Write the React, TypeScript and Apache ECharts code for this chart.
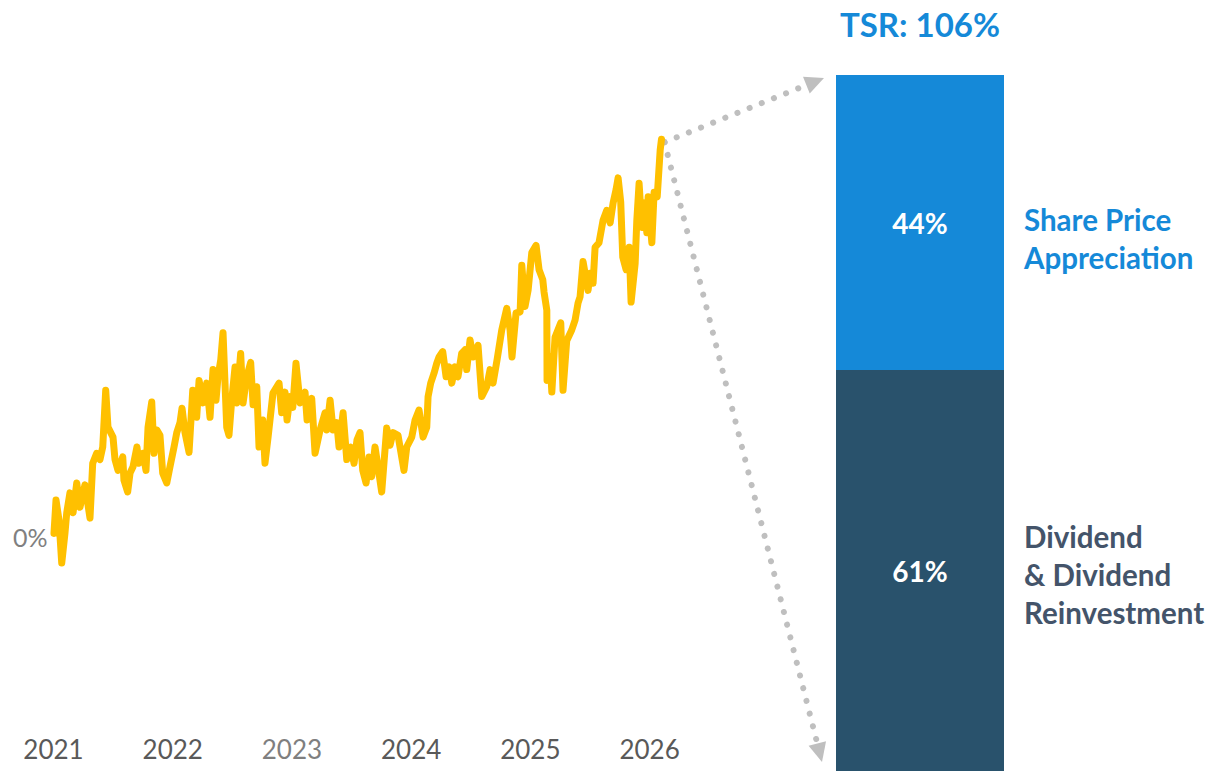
import React, { useEffect, useRef } from 'react';
import * as echarts from 'echarts';

// ---- Data ----
const tsrDates = [
  2021.004, 2021.021, 2021.046, 2021.069, 2021.096, 2021.111, 2021.138, 2021.164, 2021.195, 2021.222,
  2021.264, 2021.306, 2021.329, 2021.362, 2021.390, 2021.413, 2021.438, 2021.457, 2021.499, 2021.516,
  2021.541, 2021.581, 2021.591, 2021.622, 2021.642, 2021.667, 2021.700, 2021.717, 2021.751, 2021.776,
  2021.793, 2021.824, 2021.843, 2021.866, 2021.893, 2021.916, 2021.950, 2021.977, 2022.011, 2022.034,
  2022.061, 2022.078, 2022.103, 2022.137, 2022.168, 2022.201, 2022.221, 2022.254, 2022.285, 2022.313,
  2022.338, 2022.363, 2022.380, 2022.403, 2022.422, 2022.453, 2022.472, 2022.495, 2022.523, 2022.537,
  2022.570, 2022.590, 2022.621, 2022.654, 2022.674, 2022.705, 2022.724, 2022.755, 2022.774, 2022.800,
  2022.841, 2022.873, 2022.892, 2022.914, 2022.942, 2022.959, 2022.984, 2023.007, 2023.034, 2023.068,
  2023.110, 2023.127, 2023.166, 2023.194, 2023.236, 2023.278, 2023.292, 2023.320, 2023.345, 2023.376,
  2023.395, 2023.429, 2023.460, 2023.493, 2023.521, 2023.546, 2023.571, 2023.594, 2023.622, 2023.647,
  2023.669, 2023.697, 2023.722, 2023.753, 2023.795, 2023.823, 2023.848, 2023.890, 2023.940, 2023.963,
  2024.005, 2024.033, 2024.066, 2024.100, 2024.131, 2024.142, 2024.164, 2024.192, 2024.215, 2024.234,
  2024.265, 2024.293, 2024.318, 2024.341, 2024.368, 2024.393, 2024.424, 2024.452, 2024.466, 2024.494,
  2024.519, 2024.561, 2024.592, 2024.634, 2024.662, 2024.687, 2024.721, 2024.760, 2024.802, 2024.830,
  2024.846, 2024.880, 2024.914, 2024.928, 2024.955, 2024.981, 2025.012, 2025.048, 2025.073, 2025.104,
  2025.115, 2025.138, 2025.140, 2025.165, 2025.180, 2025.207, 2025.255, 2025.274, 2025.305, 2025.347,
  2025.375, 2025.400, 2025.417, 2025.442, 2025.484, 2025.501, 2025.526, 2025.543, 2025.576, 2025.610,
  2025.641, 2025.669, 2025.694, 2025.719, 2025.736, 2025.758, 2025.775, 2025.803, 2025.829, 2025.845,
  2025.879, 2025.893, 2025.912, 2025.935, 2025.954, 2025.977, 2025.988, 2026.019, 2026.038, 2026.064,
  2026.089, 2026.100,
];
const tsrValues = [
  0.4, 4.1, 1.9, -2.9, 0.4, 2.7, 4.9, 2.7, 6.0, 3.3,
  5.8, 2.1, 8.2, 9.3, 8.6, 10.0, 16.3, 12.2, 11.1, 8.6,
  7.4, 8.9, 6.3, 5.0, 7.1, 7.8, 10.0, 8.2, 9.3, 7.4,
  12.2, 15.0, 9.3, 11.9, 11.3, 7.1, 6.0, 7.8, 10.0, 11.6,
  12.7, 14.3, 11.6, 9.4, 16.3, 13.3, 17.4, 14.9, 17.1, 13.3,
  18.6, 15.2, 17.8, 19.7, 22.7, 12.2, 11.3, 15.2, 18.9, 14.9,
  20.4, 14.9, 17.8, 19.4, 14.7, 16.7, 10.0, 13.0, 8.2, 11.1,
  16.0, 16.7, 17.1, 13.8, 16.1, 13.0, 15.6, 14.4, 19.3, 14.9,
  16.1, 13.0, 15.4, 9.3, 11.9, 13.8, 11.9, 15.2, 11.9, 12.7,
  10.0, 13.8, 8.6, 10.0, 8.2, 10.8, 11.6, 7.4, 6.0, 8.9,
  6.7, 10.0, 7.8, 5.0, 12.1, 10.2, 11.6, 11.3, 7.4, 10.0,
  11.1, 13.0, 14.1, 11.1, 12.2, 15.6, 17.1, 18.2, 19.3, 20.0,
  20.6, 17.8, 18.9, 17.1, 18.9, 17.8, 20.4, 20.8, 18.6, 21.9,
  20.0, 21.3, 15.6, 16.7, 18.6, 17.1, 19.7, 23.0, 25.4, 23.0,
  20.0, 24.9, 25.0, 30.2, 25.6, 27.4, 31.6, 32.4, 29.7, 28.6,
  27.2, 25.2, 17.4, 20.0, 16.1, 22.2, 23.8, 16.3, 21.8, 23.0,
  24.1, 26.0, 26.7, 30.6, 27.4, 29.3, 28.2, 32.2, 32.7, 35.2,
  36.3, 34.9, 37.1, 38.6, 39.9, 37.2, 31.1, 29.7, 32.2, 26.1,
  30.4, 35.2, 39.3, 34.4, 37.1, 33.8, 37.8, 32.7, 38.3, 37.8,
  43.0, 44.2,
];

const barCategories = ['TSR'];
const dividendShare = [61];
const priceShare = [44];
const tsrTotal = 106;
const priceLabel = 'Share Price\nAppreciation';
const dividendLabel = 'Dividend\n& Dividend\nReinvestment';

export default function App() {
  const ref = useRef<HTMLDivElement>(null);

  useEffect(() => {
    document.body.style.margin = '0';
    const chart = echarts.init(ref.current as HTMLDivElement, null, { renderer: 'svg' });
    const FONT = 'Lato, "Open Sans", sans-serif';
    const BLUE = '#1589D8';
    const NAVY = '#29526C';
    const SLATE = '#44546A';
    const GREY = '#BFBFBF';

    const barLeft = 836;
    const barWidth = 168;
    const barTop = 75;
    const barHeight = 696;

    chart.setOption({
      animation: false,
      grid: [
        { left: 53.5, top: 87, width: 608, height: 630 },
        { left: barLeft, top: barTop, width: barWidth, height: barHeight },
      ],
      xAxis: [
        {
          type: 'value',
          gridIndex: 0,
          min: 2021,
          max: 2026.1,
          interval: 1,
          axisLine: { show: false },
          axisTick: { show: false },
          splitLine: { show: false },
          axisLabel: {
            margin: 19,
            fontSize: 26,
            fontFamily: FONT,
            color: (v: any) => (Number(v) === 2023 ? '#7F7F7F' : '#595959'),
            formatter: (v: number) => (Math.abs(v - Math.round(v)) < 1e-6 ? String(Math.round(v)) : ''),
          },
        },
        { type: 'category', gridIndex: 1, data: barCategories, show: false },
      ],
      yAxis: [
        {
          type: 'value',
          gridIndex: 0,
          min: -20,
          max: 50,
          interval: 10,
          axisLine: { show: false },
          axisTick: { show: false },
          splitLine: { show: false },
          axisLabel: {
            margin: 6,
            fontSize: 25,
            fontFamily: FONT,
            color: '#808080',
            formatter: (v: number) => (v === 0 ? '0%' : ''),
          },
        },
        { type: 'value', gridIndex: 1, min: 1.2, max: 105, show: false },
      ],
      series: [
        {
          type: 'line',
          xAxisIndex: 0,
          yAxisIndex: 0,
          data: tsrDates.map((d, i) => [d, tsrValues[i]]),
          showSymbol: false,
          clip: false,
          lineStyle: { color: '#FFC000', width: 7, cap: 'round', join: 'round' },
        },
        {
          type: 'bar',
          xAxisIndex: 1,
          yAxisIndex: 1,
          stack: 'tsr',
          barWidth: '100%',
          data: dividendShare,
          itemStyle: { color: NAVY },
          label: {
            show: true,
            position: 'inside',
            formatter: '{c}%',
            color: '#FFFFFF',
            fontSize: 28,
            fontWeight: 'bold',
            fontFamily: FONT,
          },
        },
        {
          type: 'bar',
          xAxisIndex: 1,
          yAxisIndex: 1,
          stack: 'tsr',
          barWidth: '100%',
          data: priceShare,
          itemStyle: { color: BLUE },
          label: {
            show: true,
            position: 'inside',
            formatter: '{c}%',
            color: '#FFFFFF',
            fontSize: 28,
            fontWeight: 'bold',
            fontFamily: FONT,
          },
        },
      ],
    });

    const last = tsrDates.length - 1;
    const start = chart.convertToPixel({ gridIndex: 0 }, [tsrDates[last], tsrValues[last]]) as number[];
    const sx = start[0] + 3;
    const sy = start[1] + 3;

    const arrow = (tx: number, ty: number) => {
      const dx = tx - sx;
      const dy = ty - sy;
      const len = Math.sqrt(dx * dx + dy * dy);
      const ux = dx / len;
      const uy = dy / len;
      const head = 19;
      const half = 9;
      const bx = tx - ux * head;
      const by = ty - uy * head;
      const px = -uy * half;
      const py = ux * half;
      return [
        {
          type: 'line',
          shape: { x1: sx, y1: sy, x2: bx - ux * 4, y2: by - uy * 4 },
          style: { stroke: GREY, lineWidth: 6, lineDash: [0.1, 13], lineCap: 'round' },
          silent: true,
        },
        {
          type: 'polygon',
          shape: { points: [[tx, ty], [bx + px, by + py], [bx - px, by - py]] },
          style: { fill: GREY },
          silent: true,
        },
      ];
    };

    const topPx = chart.convertToPixel({ gridIndex: 1 }, [0, dividendShare[0] + priceShare[0]]) as number[];
    const midPx = chart.convertToPixel({ gridIndex: 1 }, [0, dividendShare[0]]) as number[];
    const priceCenter = (topPx[1] + midPx[1]) / 2;
    const divCenter = (midPx[1] + barTop + barHeight + 8) / 2;

    chart.setOption({
      graphic: [
        ...arrow(barLeft - 12, barTop + 3),
        ...arrow(barLeft - 14, 762),
        {
          type: 'text',
          x: barLeft + barWidth / 2,
          y: 24,
          style: {
            text: `TSR: ${tsrTotal}%`,
            fill: BLUE,
            fontSize: 33,
            fontWeight: 'bold',
            fontFamily: FONT,
            align: 'center',
            verticalAlign: 'middle',
          },
        },
        {
          type: 'text',
          x: barLeft + barWidth + 20,
          y: priceCenter + 16,
          style: {
            text: priceLabel,
            fill: BLUE,
            fontSize: 29.5,
            fontWeight: 'bold',
            fontFamily: FONT,
            lineHeight: 38,
            align: 'left',
            verticalAlign: 'middle',
          },
        },
        {
          type: 'text',
          x: barLeft + barWidth + 20,
          y: divCenter,
          style: {
            text: dividendLabel,
            fill: SLATE,
            fontSize: 29.5,
            fontWeight: 'bold',
            fontFamily: FONT,
            lineHeight: 38,
            align: 'left',
            verticalAlign: 'middle',
          },
        },
      ],
    });

    return () => {
      chart.dispose();
    };
  }, []);

  return <div ref={ref} style={{ width: 1212, height: 771 }} />;
}
